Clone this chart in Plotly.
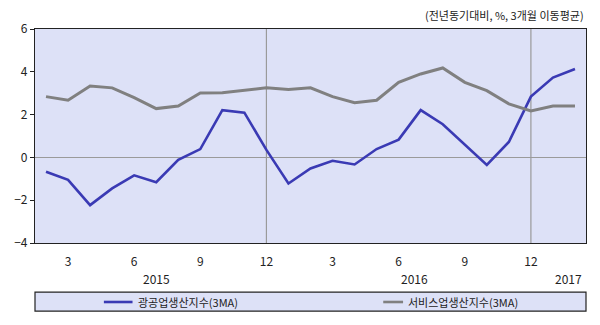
import plotly.graph_objects as go

# Monthly observations, Feb 2015 – Feb 2017 (3-month moving average, YoY %)
months = ["2015-02", "2015-03", "2015-04", "2015-05", "2015-06", "2015-07", "2015-08",
          "2015-09", "2015-10", "2015-11", "2015-12", "2016-01", "2016-02", "2016-03",
          "2016-04", "2016-05", "2016-06", "2016-07", "2016-08", "2016-09", "2016-10",
          "2016-11", "2016-12", "2017-01", "2017-02"]
mining_mfg = [-0.67, -1.05, -2.23, -1.45, -0.84, -1.16, -0.11, 0.39, 2.21, 2.09, 0.35,
              -1.22, -0.52, -0.16, -0.33, 0.39, 0.83, 2.21, 1.55, 0.61, -0.35, 0.72,
              2.84, 3.73, 4.13]
services = [2.84, 2.67, 3.34, 3.25, 2.79, 2.28, 2.40, 3.01, 3.02, 3.12, 3.25, 3.17,
            3.25, 2.84, 2.56, 2.67, 3.51, 3.90, 4.18, 3.51, 3.12, 2.50, 2.17, 2.40, 2.40]

series_names = ["광공업생산지수(3MA)", "서비스업생산지수(3MA)"]
series_colors = ["#3a3ab4", "#808080"]
month_ticks = ["3", "6", "9", "12", "3", "6", "9", "12"]
year_labels = ["2015", "2016", "2017"]
unit_note = "(전년동기대비, %, 3개월 이동평균)"

idx = list(range(len(months)))
tick_pos = [i for i, m in enumerate(months) if m[5:] in ("03", "06", "09", "12")]
dec_pos = [i for i, m in enumerate(months) if m.endswith("-12")]
year_pos = [5, 16.7, 23.7]

FONT = "Noto Sans CJK KR, Malgun Gothic, sans-serif"
BG = "#dde1f7"

fig = go.Figure()
for name, vals, col, w in zip(series_names, [mining_mfg, services], series_colors, [2.6, 3]):
    fig.add_trace(go.Scatter(x=idx, y=vals, mode="lines", name=name,
                             line=dict(color=col, width=w), showlegend=False))

shapes = []
for p in dec_pos:
    shapes.append(dict(type="line", xref="x", yref="y", x0=p, x1=p, y0=-4, y1=6,
                       line=dict(color="#9a9a9a", width=1.2), layer="below"))

# legend frame spanning the plot width, with hand-placed entries
shapes.append(dict(type="rect", xref="paper", yref="paper", x0=0, x1=1,
                   y0=-0.318, y1=-0.230, fillcolor=BG,
                   line=dict(color="#222", width=1.2)))
legend_row = -0.2757
legend_items = [(0.125, 0.177, 0.184), (0.632, 0.668, 0.674)]
annotations = []
for (lx0, lx1, tx), name, col in zip(legend_items, series_names, series_colors):
    shapes.append(dict(type="line", xref="paper", yref="paper", x0=lx0, x1=lx1,
                       y0=legend_row, y1=legend_row, line=dict(color=col, width=2.6)))
    annotations.append(dict(text=name, xref="paper", yref="paper", x=tx, y=legend_row,
                            xanchor="left", yanchor="middle", showarrow=False,
                            font=dict(family=FONT, size=11, color="#222")))

annotations.append(dict(text=unit_note, xref="paper", yref="paper", x=1.0, y=1.0,
                        xanchor="right", yanchor="bottom", yshift=4, showarrow=False,
                        font=dict(family=FONT, size=11, color="#222")))
for yl, p in zip(year_labels, year_pos):
    annotations.append(dict(text=yl, xref="x", yref="paper", x=p, y=-0.1636,
                            xanchor="center", yanchor="middle", showarrow=False,
                            font=dict(family=FONT, size=12, color="#222")))

fig.update_layout(
    width=600, height=325,
    margin=dict(l=35, r=14, t=29, b=82),
    paper_bgcolor="white", plot_bgcolor=BG,
    font=dict(family=FONT, size=12, color="#222"),
    shapes=shapes, annotations=annotations,
    showlegend=False,
)
fig.update_xaxes(range=[-0.5, len(months) - 0.5], tickvals=tick_pos, ticktext=month_ticks,
                 showgrid=False, zeroline=False, showline=True, mirror=True,
                 linecolor="#222", linewidth=1.2, ticks="", ticklabelstandoff=7,
                 tickfont=dict(size=12))
fig.update_yaxes(range=[-4, 6], tickvals=[-4, -2, 0, 2, 4, 6], showgrid=False,
                 zeroline=True, zerolinecolor="#9a9a9a", zerolinewidth=1.2,
                 showline=True, mirror=True, linecolor="#222", linewidth=1.2,
                 ticks="outside", ticklen=4, tickcolor="#222", tickfont=dict(size=12))

fig.write_html("out.html")
